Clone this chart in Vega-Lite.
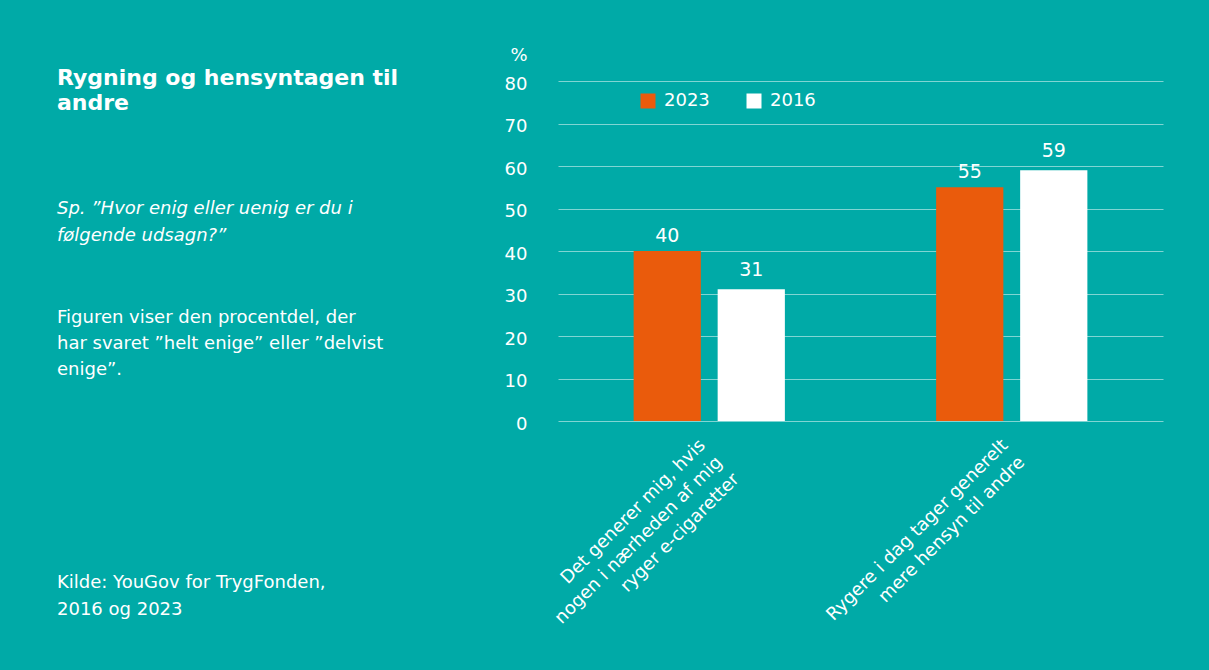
{
  "$schema": "https://vega.github.io/schema/vega-lite/v6.json",
  "background": "#00AAA7",
  "padding": {"left": 57, "top": 46, "right": 46, "bottom": 40},
  "config": {"view": {"stroke": null}, "font": "DejaVu Sans"},
  "spacing": 102,
  "hconcat": [
    {
      "spacing": 0,
      "vconcat": [
        {
          "width": 345, "height": 21,
          "data": {"values": []},
          "mark": "point",
          "title": {"text": ["Rygning og hensyntagen til", "andre"], "orient": "bottom", "anchor": "start", "offset": 0, "dy": -34, "fontSize": 22, "fontWeight": "bold", "color": "white", "lineHeight": 25}
        },
        {
          "width": 345, "height": 86,
          "data": {"values": []},
          "mark": "point",
          "title": {"text": ["Sp. ”Hvor enig eller uenig er du i", "følgende udsagn?”"], "orient": "bottom", "anchor": "start", "offset": 0, "fontSize": 18, "fontWeight": "normal", "fontStyle": "italic", "color": "white", "lineHeight": 27}
        },
        {
          "width": 345, "height": 64,
          "data": {"values": []},
          "mark": "point",
          "title": {"text": ["Figuren viser den procentdel, der", "har svaret ”helt enige” eller ”delvist", "enige”."], "orient": "bottom", "anchor": "start", "offset": 0, "fontSize": 18, "fontWeight": "normal", "color": "white", "lineHeight": 26}
        },
        {
          "width": 345, "height": 195,
          "data": {"values": []},
          "mark": "point",
          "title": {"text": ["Kilde: YouGov for TrygFonden,", "2016 og 2023"], "orient": "bottom", "anchor": "start", "offset": 0, "fontSize": 18, "fontWeight": "normal", "color": "white", "lineHeight": 27}
        }
      ]
    },
    {
      "width": 605,
      "height": 340,
      "data": {"values": [
        {"kategori": "Det generer mig, hvis|nogen i nærheden af mig|ryger e-cigaretter", "aar": "2023", "pct": 40},
        {"kategori": "Det generer mig, hvis|nogen i nærheden af mig|ryger e-cigaretter", "aar": "2016", "pct": 31},
        {"kategori": "Rygere i dag tager generelt|mere hensyn til andre", "aar": "2023", "pct": 55},
        {"kategori": "Rygere i dag tager generelt|mere hensyn til andre", "aar": "2016", "pct": 59}
      ]},
      "encoding": {
        "x": {
          "field": "kategori", "type": "nominal", "sort": null,
          "scale": {"paddingInner": 0.5, "paddingOuter": 0.25},
          "axis": {
            "title": null, "labelAngle": -45, "labelAlign": "right", "labelBaseline": "top",
            "labelExpr": "split(datum.label, '|')", "labelFontSize": 18, "labelLineHeight": 24,
            "labelPadding": 15, "labelOffset": -13, "ticks": false, "domain": false, "grid": false,
            "labelColor": "white", "labelLimit": 500, "labelOverlap": false
          }
        },
        "xOffset": {"field": "aar", "type": "nominal", "sort": ["2023", "2016"], "scale": {"paddingInner": 0.2}},
        "y": {
          "field": "pct", "type": "quantitative",
          "scale": {"domain": [0, 80]},
          "axis": {
            "values": [0, 10, 20, 30, 40, 50, 60, 70, 80],
            "domain": false, "ticks": false, "labelPadding": 31, "labelFontSize": 18, "labelColor": "white",
            "labelOffset": 3,
            "gridColor": "white", "gridOpacity": 0.5, "gridWidth": 1,
            "title": "%", "titleAngle": 0, "titleAlign": "right", "titleBaseline": "alphabetic",
            "titleX": -31, "titleY": -21, "titleFontSize": 18, "titleFontWeight": "normal", "titleColor": "white"
          }
        }
      },
      "layer": [
        {
          "mark": {"type": "bar"},
          "encoding": {
            "color": {
              "field": "aar", "type": "nominal",
              "scale": {"domain": ["2023", "2016"], "range": ["#EA5B0C", "#FFFFFF"]},
              "legend": {
                "orient": "none", "legendX": 582, "legendY": 11, "direction": "horizontal", "title": null,
                "symbolType": "square", "symbolSize": 225, "symbolStrokeWidth": 0, "symbolOpacity": 1,
                "labelFontSize": 18, "labelColor": "white", "columnPadding": 35, "labelOffset": 7
              }
            }
          }
        },
        {
          "transform": [{"filter": "datum.aar == '2023'"}],
          "mark": {"type": "text", "dy": -9, "baseline": "alphabetic", "fontSize": 19, "color": "white"},
          "encoding": {"text": {"field": "pct", "type": "quantitative"}}
        },
        {
          "transform": [{"filter": "datum.aar == '2016'"}],
          "mark": {"type": "text", "dy": -13, "baseline": "alphabetic", "fontSize": 19, "color": "white"},
          "encoding": {"text": {"field": "pct", "type": "quantitative"}}
        }
      ]
    }
  ]
}
